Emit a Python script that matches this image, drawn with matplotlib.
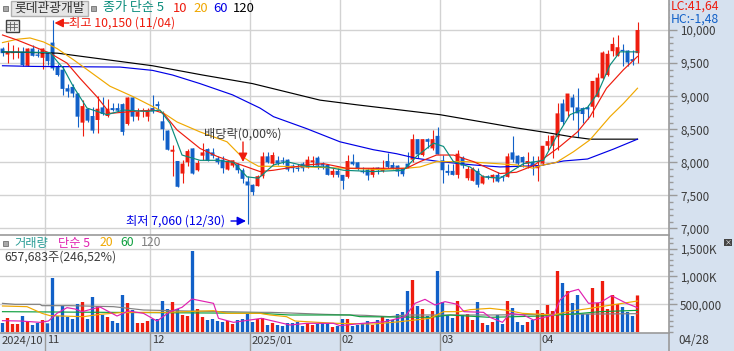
import matplotlib
matplotlib.use("Agg")
import matplotlib.pyplot as plt
from matplotlib.patches import Rectangle
from matplotlib.ticker import FuncFormatter, MultipleLocator
from matplotlib.transforms import ScaledTranslation

plt.rcParams['font.family'] = ['Noto Sans CJK KR', 'DejaVu Sans']

# ---------- candles (won) ----------
opens = [9720,9630,9650,9660,9670,9460,9720,9630,9580,9650,9810,9450,9400,9120,9140,9040,8600,8810,8700,8640,
 8830,8700,8820,8820,8880,8580,8980,8690,8770,8690,8820,8880,8620,8480,8160,8020,7830,8000,8210,7880,
 8100,8200,8150,8060,8040,7890,7950,7970,7880,7710,7660,7640,7790,8090,7980,8030,8030,8040,7950,7920,
 7980,7920,8000,8070,7980,7960,7810,7870,7810,7780,8010,8000,7870,7890,7810,7920,7870,8020,7960,7950,
 7900,7980,8040,8350,8110,8350,8210,8400,8030,7870,7870,7810,8070,7760,7720,7870,7680,7790,7760,7810,
 7790,7780,8150,8100,8080,7980,8010,7910,7980,8250,8250,8380,8890,8770,8980,8830,8820,8830,8840,8990,
 9270,9320,9680,9610,9700,9690,9560,9650]
closes = [9650,9670,9670,9670,9470,9720,9610,9610,9720,9530,9420,9320,9110,9070,9040,8690,8850,8630,8480,8810,
 8730,8810,8790,8780,8460,8980,8690,8760,8790,8790,8770,8850,8500,8190,8190,7630,7980,8170,7830,7990,
 8150,8020,8100,8000,7910,8020,8030,7880,7750,7650,7550,7790,8090,8000,8110,7980,8010,7890,7910,7900,
 7910,8040,8030,7950,7950,7810,7870,7810,7720,8020,7970,7900,7850,7800,7910,7880,7910,7930,7910,7860,
 7820,7920,8350,8120,8350,8310,8350,8120,7880,7840,7810,8130,7950,7900,7900,7660,7790,7770,7810,7710,
 7770,8090,8040,7980,8000,8020,7950,7960,8250,8320,8400,8740,8610,9040,8830,8740,8730,8800,9230,9280,
 9660,9640,9790,9740,9680,9510,9530,10000]
highs = [9750,9820,9770,9750,9750,9730,9770,9720,9730,9670,10150,9480,9450,9190,9190,9050,8940,8820,8840,9000,
 8980,8960,8890,8890,8890,8990,8990,8820,8820,8820,9020,8920,8770,8490,8260,8020,8040,8200,8210,8040,
 8290,8210,8210,8090,8090,8040,8040,7990,7910,7800,7670,7810,8150,8160,8160,8090,8080,8050,7970,7980,
 8000,8100,8090,8090,8010,7980,7910,7910,7810,8110,8120,8000,7930,7910,7930,7930,8030,8140,8010,7960,
 7910,8160,8430,8350,8350,8360,8490,8530,8110,7970,7980,8190,8100,7950,7930,7910,7810,7810,7830,7860,
 7810,8140,8400,8110,8100,8150,8090,8090,8250,8420,8420,8890,8950,9040,9040,9120,8830,8870,9230,9350,
 9690,9700,9900,9920,9790,9700,9700,10120]
lows = [9610,9500,9560,9570,9450,9450,9600,9590,9410,9470,9400,9300,9020,8990,8990,8540,8400,8610,8440,8440,
 8720,8690,8770,8770,8410,8560,8630,8640,8690,8630,8740,8790,8340,8190,7800,7630,7680,7950,7830,7870,
 8040,8020,8060,7980,7840,7880,7930,7840,7680,7060,7510,7640,7760,7990,7960,7960,7970,7870,7860,7870,
 7870,7910,7940,7900,7900,7810,7780,7780,7600,7770,7960,7880,7840,7730,7780,7830,7860,7910,7900,7790,
 7800,7910,8010,8060,8100,8210,8190,8120,7680,7810,7810,7760,7910,7730,7710,7630,7670,7750,7700,7700,
 7710,7780,8010,7930,7930,7910,7810,7710,7960,8180,8060,8190,8560,8690,8640,8390,8590,8660,8690,8980,
 9260,9300,9600,9610,9450,9450,9470,9500]

# ---------- price moving averages, read at sampled bars ----------
ma5_i = [0,9.5,11,12.2,14.2,16.9,20.9,24.2,28.9,31.5,33.5,35.9,39.5,42.9,46.2,48.9,51.2,54.2,56.8,60.8,64.8,68.2,74.2,80.2,82.8,86.2,88.2,90.2,93.5,96.2,99.5,101.5,104.2,108.2,110.8,113.5,117,119,121.5,123.5,127]
ma5_v = [9670,9660,9520,9420,9140,8820,8720,8790,8770,8790,8590,8110,8030,8030,8000,7780,7760,7960,8010,7940,7930,7880,7860,7880,8090,8290,8240,8010,7930,7780,7760,7850,7980,8030,8390,8720,8830,9040,9470,9670,9670]
ma10_i = [0,2.9,6.2,9.5,12.9,15.5,18.9,21.5,26.2,30.2,32.2,34.9,39.5,42.9,47,51.5,54.2,60.8,64.2,68.8,80.8,83.5,86.8,90.2,94.2,99.5,102.8,106.2,108.8,111.5,115,117.5,120.8,124.2,127]
ma10_v = [9925,9850,9750,9650,9500,9270,8990,8740,8770,8790,8740,8490,8210,8090,7980,7860,7880,7960,7980,7910,7910,8010,8110,8110,8010,7830,7850,7950,8090,8240,8460,8690,9120,9400,9600]
ma20_i = [0,2.9,5.5,8.2,10.9,14.2,17.5,21.5,26.2,30.9,34.9,39.5,44.9,47.5,49.5,51.2,54.8,60.8,68.8,75.5,80.8,83.5,86.8,92.8,98.8,100.8,102.8,106.2,107.5,110.8,114.2,117.5,121.5,124.2,127]
ma20_v = [9810,9860,9880,9820,9720,9550,9370,9150,8990,8810,8610,8460,8310,8110,8010,7940,7940,7930,7910,7890,7910,7930,8010,8010,7980,7970,7960,7910,7950,8000,8160,8340,8690,8890,9120]
ma60_i = [0,6,23.5,30,34,39.5,46,51.5,54.2,60.8,67.5,74.2,78.8,82.8,87.5,94.2,99.5,107.5,112.2,117,122.2,127]
ma60_v = [9460,9450,9440,9390,9320,9190,9020,8820,8690,8510,8310,8190,8130,8060,8010,7960,7930,7950,8020,8050,8200,8350]
ma120_i = [0,6,11,20,30,40,50,63.5,70.8,87.5,97.5,102.8,108.8,113.5,117.5,127]
ma120_v = [9670,9660,9650,9560,9460,9320,9190,8940,8870,8720,8590,8520,8450,8390,8350,8350]

# ---------- volume (thousand shares) ----------
volumes = [162,252,144,144,288,198,126,162,216,156,972,288,468,270,234,504,540,234,630,468,
 306,270,198,162,666,522,396,162,162,198,234,234,558,414,540,414,306,288,1458,414,
 270,216,234,198,180,198,144,216,234,342,180,234,252,126,162,126,108,162,162,180,
 108,162,126,144,162,162,90,108,234,234,108,126,144,198,126,216,288,234,216,324,
 360,738,936,468,414,288,378,1098,540,306,252,558,306,324,216,540,162,126,180,306,
 144,558,432,180,126,180,216,396,342,486,378,1098,882,738,522,666,324,324,792,522,
 918,414,666,504,450,360,288,657.683]

vma5_i = [0,3.5,7.5,9.2,10.9,12.9,14.5,15.9,19.5,22.9,25.2,28.2,30.9,33.5,35.9,37.9,42.2,43.2,46.2,49.5,51.8,57.5,60.8,66.2,67.5,72,76.5,80.5,82.5,84.5,86.5,88.5,91,92.3,96.2,97.5,100,101.5,104.2,106.2,107.5,110.2,111.5,113.5,115.2,117.2,119.5,121.8,124.8,127]
vma5_v = [204,198,174,198,336,438,414,366,450,288,378,336,198,366,444,594,516,246,174,216,246,126,156,156,114,156,186,276,516,588,486,546,498,366,354,264,174,336,306,216,246,306,576,726,768,516,528,654,516,438]
vma20_i = [0,4.9,7.9,9.5,16.2,19.5,23.5,28.9,32.9,42.2,44.9,51.5,53.5,56.8,58.5,63,67,74.2,79.5,85.5,88.2,91.5,93.5,97.5,101,104,110.2,113,117.5,127]
vma20_v = [468,456,336,294,276,318,348,354,354,384,336,336,306,276,198,174,156,144,186,246,366,366,402,426,390,336,306,366,426,558]
vma60_i = [0,51.5,57.5,69.5,71.5,85.5,89.5,97.5,107.5,114.2,119.5,127]
vma60_v = [366,336,306,306,276,264,306,264,288,324,366,390]
vma120_i = [0,2.5,7.5,7.9,13.5,22.2,28.2,37,51.5,53.5,57.5,64.5,72.5,77.5,80.8,90.8,97.5,110.8,127]
vma120_v = [516,498,498,474,474,456,396,378,354,354,342,318,300,276,306,306,306,318,330]

# ---------- axis labels ----------
month_pos = [8.5,29.5,49.5,67.5,87.5,107.5]
month_labels = ['11','12','2025/01','02','03','04']
price_ticks = [7000,7500,8000,8500,9000,9500,10000]
vol_ticks = [500,1000,1500]

RED, BLUE = '#ee1c0e', '#1160c8'
TEAL, ORANGE, LBLUE = '#0a8c7c', '#f0a800', '#0000e6'
MAG, GREEN, GRAY = '#e020b0', '#10a040', '#808080'
PANEL, GRID, EDGE, TXT = '#d6e1ef', '#d2d2d2', '#9a9a9a', '#3c3c3c'

W, H = 734, 351
fig = plt.figure(figsize=(W/100, H/100), dpi=100, facecolor='white')
def rect(l, t, r, b):
    return [l/W, 1-b/H, (r-l)/W, (b-t)/H]

bg = fig.add_axes([0,0,1,1], zorder=0); bg.set_xlim(0,W); bg.set_ylim(H,0); bg.axis('off')
bg.add_patch(Rectangle((669,0),65,351,fc=PANEL,ec='none'))
bg.add_patch(Rectangle((0,333),734,18,fc=PANEL,ec='none'))

XL = (-0.5, 133.3)
ax = fig.add_axes(rect(0,0,669,235), zorder=1)
ax.set_xlim(*XL); ax.set_ylim(6901,10454)
vx = fig.add_axes(rect(0,236,669,332.5), zorder=1)
vx.set_xlim(*XL); vx.set_ylim(-9,1728)

for a in (ax, vx):
    a.set_facecolor('white')
    a.grid(True, color=GRID, lw=1); a.set_axisbelow(True)
    for s in ('top','left'): a.spines[s].set_visible(False)
    a.spines['right'].set_color(EDGE); a.spines['right'].set_linewidth(1.2)
    a.spines['bottom'].set_color(EDGE); a.spines['bottom'].set_linewidth(1.2)
    a.yaxis.tick_right()
    a.tick_params(axis='y', which='major', length=6, width=1, color=EDGE, labelsize=8.4, labelcolor=TXT, pad=2)
    a.tick_params(axis='y', which='minor', length=3, width=1, color=EDGE)
    a.set_xticks(month_pos)
    a.tick_params(axis='x', length=0)

ax.set_xticklabels([])
ax.set_yticks(price_ticks)
ax.yaxis.set_minor_locator(MultipleLocator(100))
ax.yaxis.set_major_formatter(FuncFormatter(lambda v,_: f'{int(v):,}'))

vx.set_yticks(vol_ticks)
vx.yaxis.set_minor_locator(MultipleLocator(100))
vx.yaxis.set_major_formatter(FuncFormatter(lambda v,_: '500,000' if v==500 else f'{int(v):,}K'))
vx.set_xticklabels(month_labels, fontsize=8.0, color=TXT, ha='left')
vx.tick_params(axis='x', pad=2)
shift = ScaledTranslation(2/100, 0, fig.dpi_scale_trans)
for t in vx.get_xticklabels():
    t.set_transform(t.get_transform() + shift)

# candles
n = len(opens)
xs = list(range(n))
cols = [RED if c >= o else BLUE for o, c in zip(opens, closes)]
ax.vlines(xs, lows, highs, colors=cols, lw=0.8, zorder=3)
cb = ax.bar(xs, [max(abs(c-o),12) for o,c in zip(opens,closes)], bottom=[min(o,c) for o,c in zip(opens,closes)],
       width=0.78, color=cols, lw=0, zorder=3)
for (i,v,c) in [(ma120_i,ma120_v,'black'),(ma60_i,ma60_v,LBLUE),(ma20_i,ma20_v,ORANGE),
                (ma10_i,ma10_v,RED),(ma5_i,ma5_v,TEAL)]:
    ax.plot(i, v, color=c, lw=0.85, zorder=4)

# volume
vb = vx.bar(xs, volumes, width=0.66, color=cols, lw=0, zorder=3)
for p in list(cb) + list(vb):
    p.set_snap(False)
for (i,v,c) in [(vma120_i,vma120_v,GRAY),(vma60_i,vma60_v,GREEN),(vma20_i,vma20_v,ORANGE),(vma5_i,vma5_v,MAG)]:
    vx.plot(i, v, color=c, lw=0.85, zorder=4)

# overlay in pixel coordinates
ov = fig.add_axes([0,0,1,1], zorder=2); ov.set_xlim(0,W); ov.set_ylim(H,0); ov.axis('off')
ov.patch.set_alpha(0)
def T(x,y,s,c=TXT,fs=8.8,**k):
    ov.text(x,y,s,color=c,fontsize=fs,va='center',ha=k.pop('ha','left'),**k)

# month separators in the date band
for p in month_pos:
    px = 2.5+5*p
    ov.plot([px,px],[333,351],color=EDGE,lw=1)
ov.plot([669,669],[333,351],color=EDGE,lw=1.2)
T(2,341,'2024/10',fs=8.0)
T(678,341,'04/28',fs=8.4)

# header
ov.add_patch(Rectangle((670,0),64,26,fc=PANEL,ec='none'))
T(671,6.5,'LC:41,64',RED)
T(671,19,'HC:-1,48',BLUE)
for x,y in [(5,8),(93,8),(5,243)]:
    ov.add_patch(Rectangle((x-2,y-2.5),5,5,fc='#a8a8a8',ec='#707070',lw=0.6))
ov.add_patch(Rectangle((10.5,1),77,14.5,fc='#e6e6e6',ec='#b0b0b0',lw=1))
T(14.5,8,'롯데관광개발','#333333',9.2)
for x,s,c in [(103,'종가 단순 5',TEAL),(173,'10',RED),(193,'20',ORANGE),(213,'60',LBLUE),(233,'120','black')]:
    T(x,8,s,c,9.4)
# grid icon
ov.add_patch(Rectangle((5.5,19.5),13,12,fc='#e8e8e8',ec='#404040',lw=1))
for gx in (9.5,13.5): ov.plot([gx,gx],[21.5,30],color='#606060',lw=0.6)
for gy in (23.5,26.5): ov.plot([7,17],[gy,gy],color='#606060',lw=0.6)

# annotations
aprops = dict(arrowstyle='-|>',lw=1.0,shrinkA=0,shrinkB=0,mutation_scale=13)
ov.annotate('',xy=(54.5,23),xytext=(69,23),arrowprops=dict(color=RED,**aprops))
T(69,23,'최고 10,150 (11/04)',RED)
T(204,134,'배당락(0,00%)',TXT)
ov.annotate('',xy=(243,162),xytext=(243,142),arrowprops=dict(color=RED,**aprops))
T(126,221,'최저 7,060 (12/30)',LBLUE)
ov.annotate('',xy=(246,221),xytext=(231,221),arrowprops=dict(color=LBLUE,**aprops))

# volume header
T(14,243,'거래량','#2a9d96')
T(58,243,'단순 5',MAG)
T(100,243,'20',ORANGE)
T(120,243,'60',GREEN)
T(141,243,'120',GRAY)
T(4,257,'657,683주(246,52%)',TXT)
ov.add_patch(Rectangle((724,238.5),8,7,fc='#444444',ec='none'))
T(728,242,'×','white',5,ha='center')

fig.savefig('out.png', dpi=100)
